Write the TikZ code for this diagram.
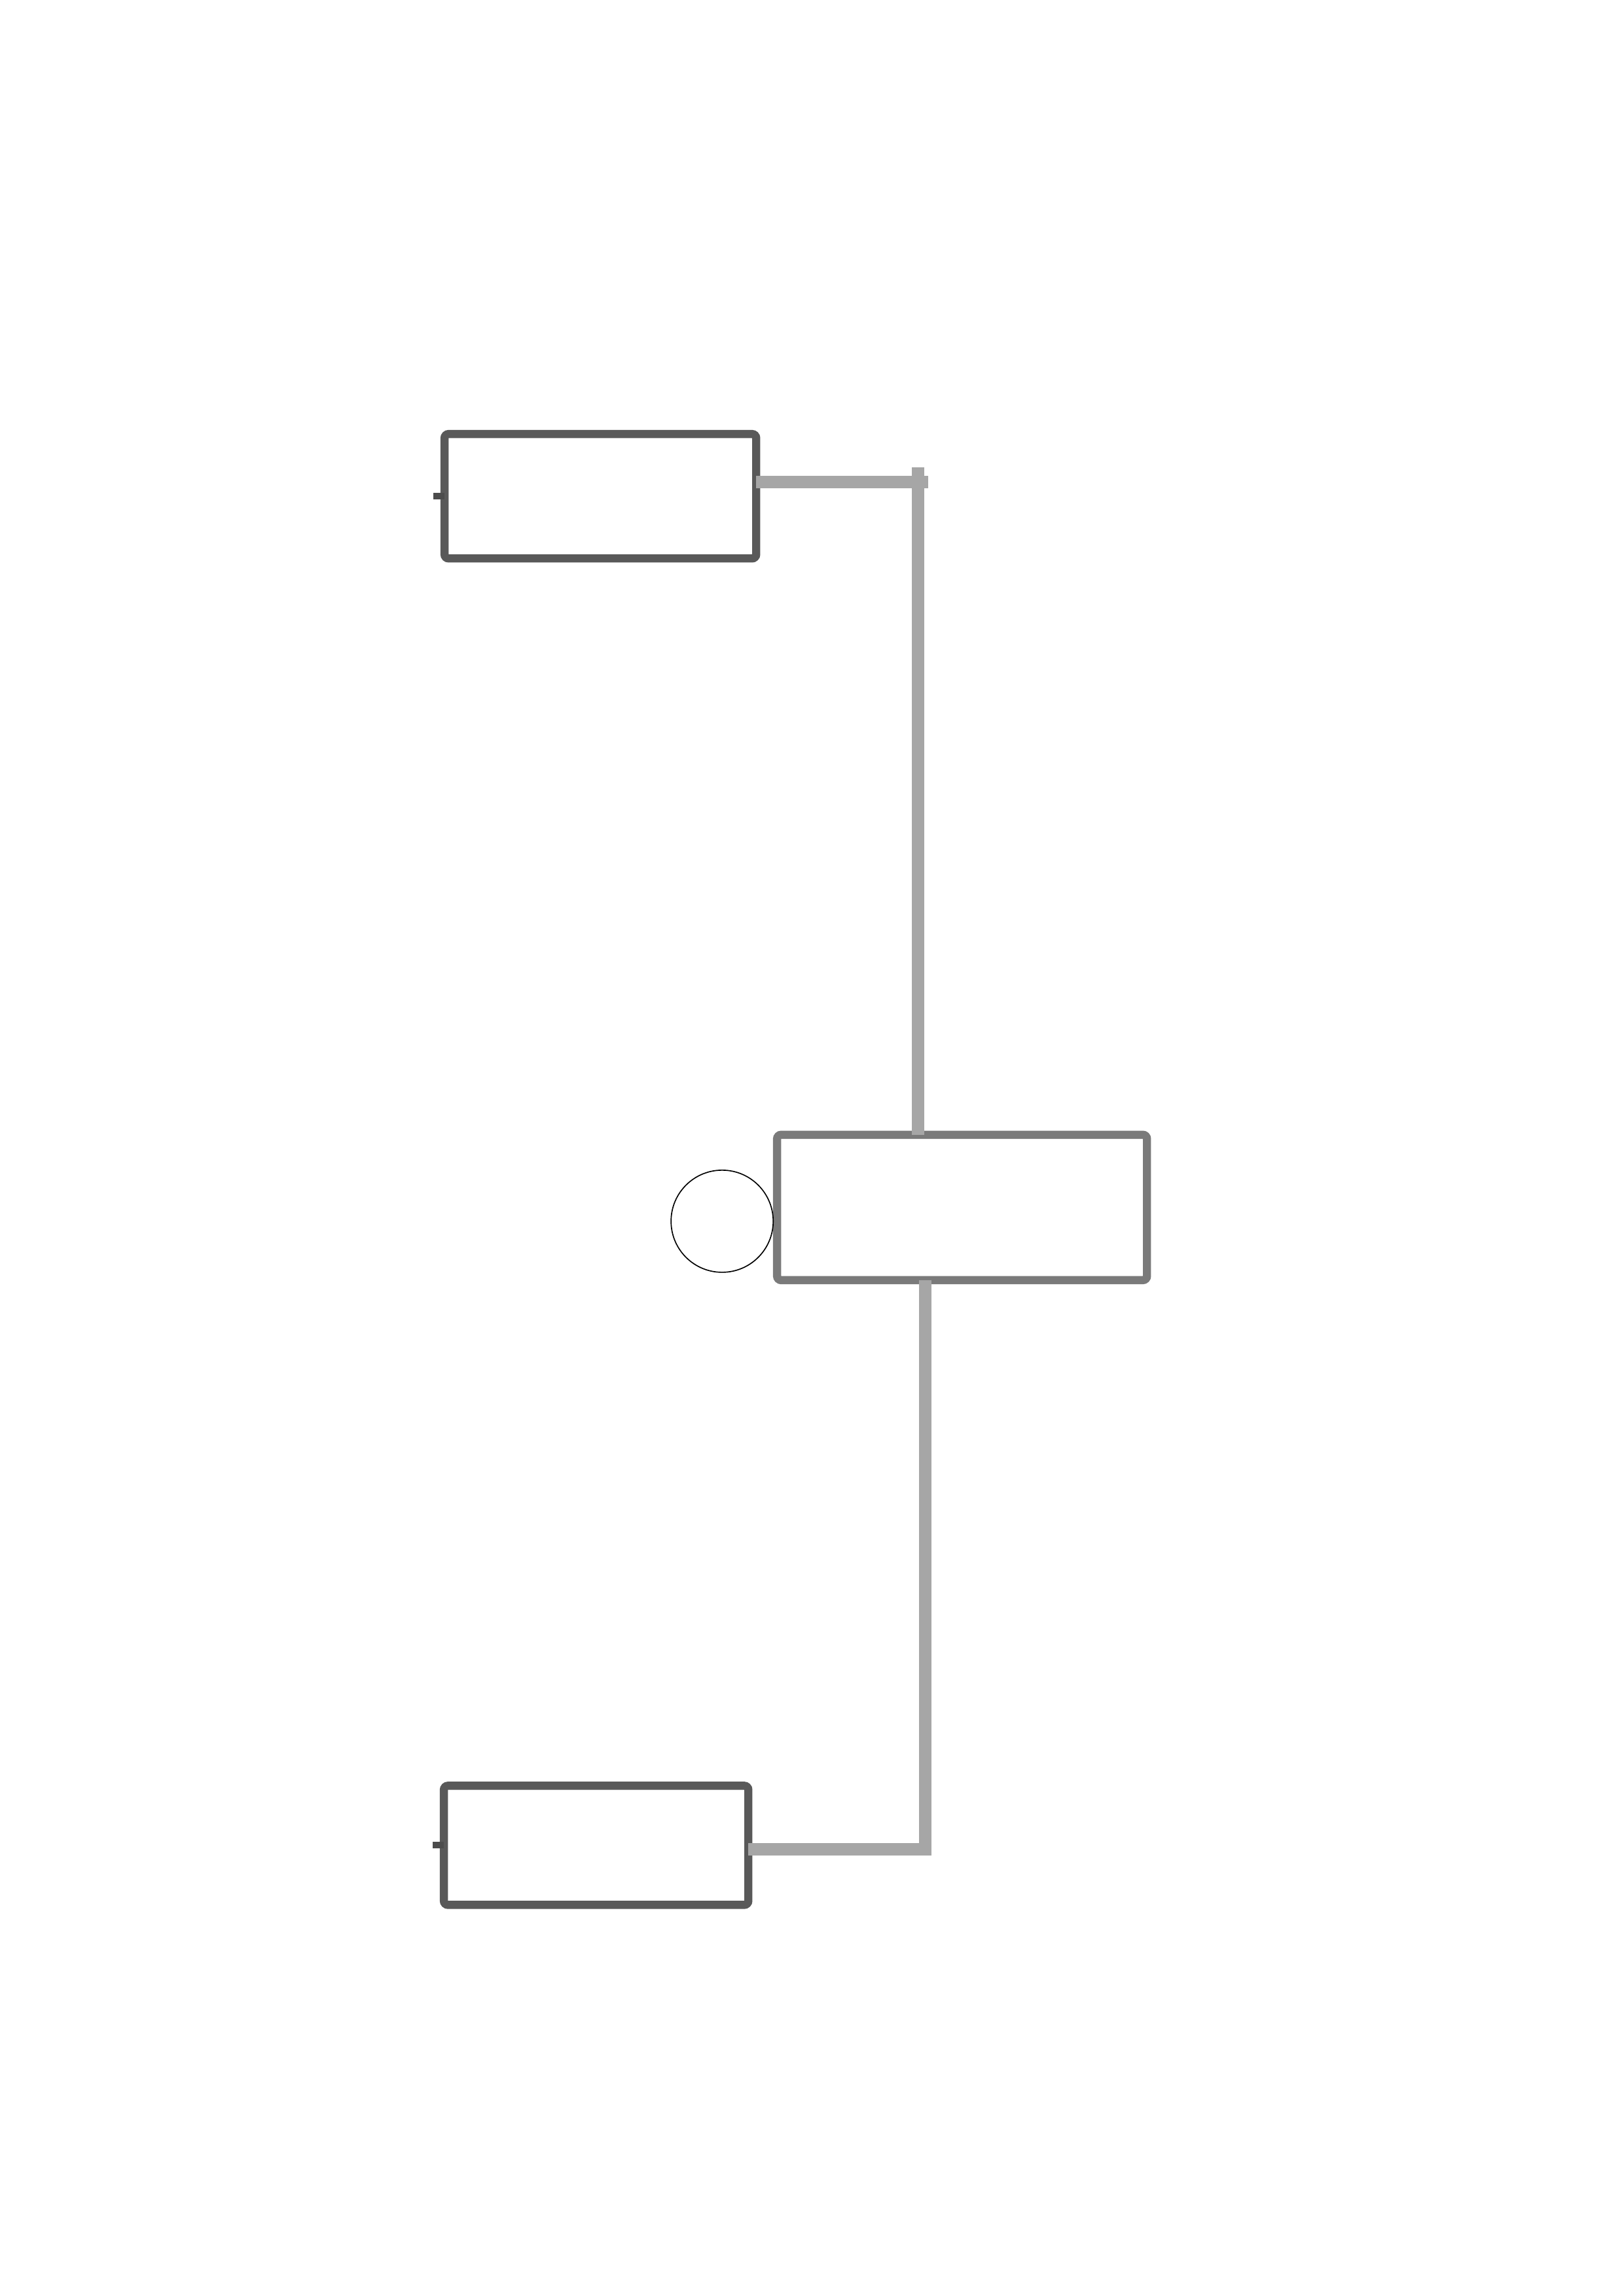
\documentclass[tikz,border=0pt]{standalone}
\begin{document}
\begin{tikzpicture}[
    box/.style={draw=black!65, line width=3pt, rounded corners=1.5pt, inner sep=0pt, outer sep=0pt},
    wire/.style={draw=black!35, line width=4.5pt}]
    \useasboundingbox (0,0) rectangle (21,-29.7);
    % blocks
    \node[box, minimum width=4.031cm, minimum height=1.609cm] (top) at (7.765,-6.419) {};
    \node[box, draw=black!52, minimum width=4.784cm, minimum height=1.880cm] (mid) at (12.443,-15.619) {};
    \node[box, minimum width=3.938cm, minimum height=1.541cm] (bot) at (7.710,-23.870) {};
    \node[circle, draw, line width=0.4pt, minimum size=1.321cm, inner sep=0pt] (ring) at (9.340,-15.797) {};
    \draw[black!70, line width=2.4pt] (top.west) -- ++(-0.144,0);
    \draw[black!70, line width=2.4pt] (bot.west) -- ++(-0.144,0);
    % connectors
    \coordinate (tj) at (11.872,-6.236);
    \coordinate (tjend) at (12.007,-6.236);
    \coordinate (tjtop) at (11.872,-6.046);
    \coordinate (bj) at (11.965,-23.921);
    \draw[wire] (tj -| top.east) -- (tjend);
    \draw[wire] (tjtop) -- (tj |- mid.north);
    \draw[wire] (bj |- mid.south) -- (bj) -- (bj -| bot.east);
\end{tikzpicture}
\end{document}
